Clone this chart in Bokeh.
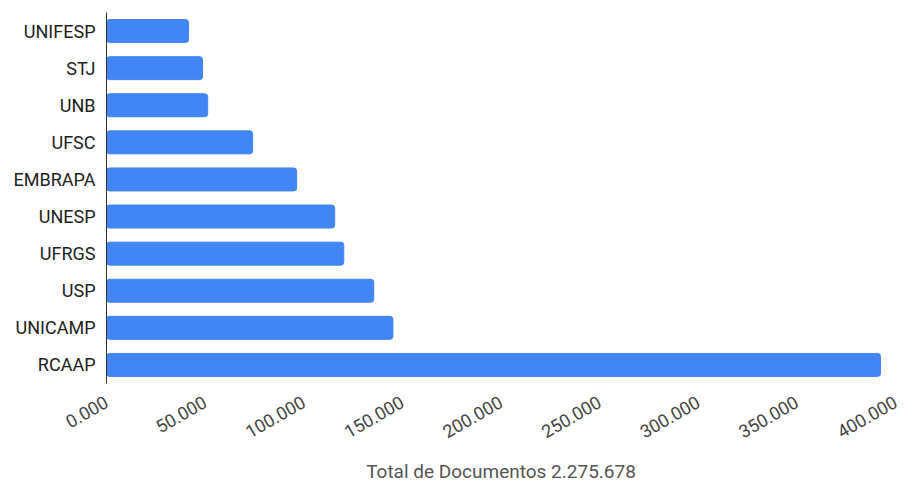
import math
from bokeh.plotting import figure
from bokeh.models import Range1d, FixedTicker
from bokeh.embed import file_html
from bokeh.resources import INLINE

categories = ["UNIFESP", "STJ", "UNB", "UFSC", "EMBRAPA", "UNESP", "UFRGS", "USP", "UNICAMP", "RCAAP"]
documents = [41600, 48700, 51300, 74100, 96400, 115700, 120300, 135500, 145200, 392400]
tick_values = [0, 50000, 100000, 150000, 200000, 250000, 300000, 350000, 400000]
tick_labels = ["0.000", "50.000", "100.000", "150.000", "200.000", "250.000", "300.000", "350.000", "400.000"]
axis_title = "Total de Documentos 2.275.678"

p = figure(width=904, height=486, output_backend="svg", toolbar_location=None,
           y_range=list(reversed(categories)), x_range=Range1d(0, 400000),
           min_border_left=106, min_border_right=9, min_border_top=12, min_border_bottom=99)
p.outline_line_color = None
p.xgrid.grid_line_color = None
p.ygrid.grid_line_color = None

p.hbar(y=categories, right=documents, left=0, height=0.62, color="#4285F4", border_radius=3)

xa = p.xaxis[0]
xa.ticker = FixedTicker(ticks=tick_values)
xa.major_label_overrides = {v: l for v, l in zip(tick_values, tick_labels)}
xa.axis_line_color = None
xa.major_tick_line_color = None
xa.minor_tick_line_color = None
xa.major_tick_out = 0
xa.major_tick_in = 0
xa.major_label_orientation = math.pi / 6
xa.major_label_text_font = "Roboto"
xa.major_label_text_font_size = "18px"
xa.major_label_text_color = "#444444"
xa.major_label_standoff = 17
xa.axis_label = axis_title
xa.axis_label_text_font = "Roboto"
xa.axis_label_text_font_style = "normal"
xa.axis_label_text_font_size = "19px"
xa.axis_label_text_color = "#555555"
xa.axis_label_standoff = 13

ya = p.yaxis[0]
ya.axis_line_color = "#333333"
ya.axis_line_width = 1
ya.major_tick_line_color = None
ya.minor_tick_line_color = None
ya.major_tick_out = 0
ya.major_tick_in = 0
ya.major_label_text_font = "Roboto"
ya.major_label_text_font_size = "18px"
ya.major_label_text_color = "#222222"
ya.major_label_standoff = 11

open("out.html", "w").write(file_html(p, INLINE))
